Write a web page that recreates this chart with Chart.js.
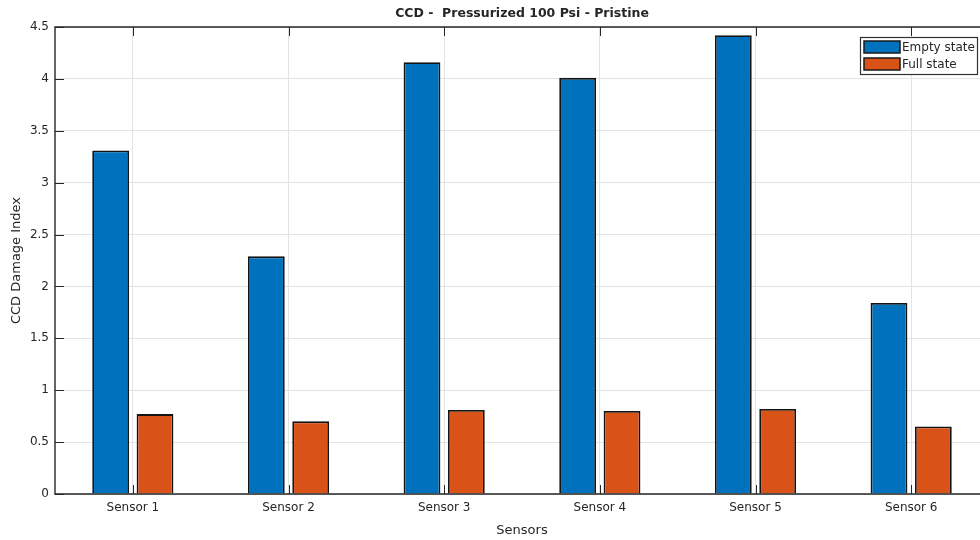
<!DOCTYPE html>
<html>
<head>
<meta charset="utf-8">
<script src="https://cdn.jsdelivr.net/npm/chart.js@4/dist/chart.umd.min.js"></script>
<style>
  html, body { margin: 0; padding: 0; overflow: hidden; background: #fff; width: 980px; height: 540px; }
  #wrap { position: relative; width: 1000px; height: 540px; }
</style>
</head>
<body>
<div id="wrap"><canvas id="c" width="1000" height="540"></canvas></div>
<script>
// Sensors along the x axis
const sensors = ['Sensor 1', 'Sensor 2', 'Sensor 3', 'Sensor 4', 'Sensor 5', 'Sensor 6'];
// CCD damage index per sensor
const emptyState = [3.31, 2.29, 4.16, 4.01, 4.42, 1.84];
const fullState  = [0.77, 0.70, 0.81, 0.80, 0.82, 0.65];
// y axis tick labels (0 .. 4.5 by 0.5)
const yTickLabels = ['0', '0.5', '1', '1.5', '2', '2.5', '3', '3.5', '4', '4.5'];

const FONT = '"DejaVu Sans", Arial, sans-serif';
const INK = '#262626';
const GRID = '#e3e3e3';

// Boxed axes with inward tick marks on all four sides
const framePlugin = {
  id: 'frame',
  afterDatasetsDraw(chart) {
    const { ctx, chartArea: { left, right, top, bottom }, scales: { x, y } } = chart;
    ctx.save();
    ctx.strokeStyle = INK;
    ctx.lineWidth = 1.4;
    ctx.beginPath();
    ctx.rect(left, top, right - left, bottom - top);
    ctx.stroke();
    ctx.lineWidth = 1;
    ctx.beginPath();
    const tl = 9;
    y.ticks.forEach((t, i) => {
      const py = Math.round(y.getPixelForTick(i)) + 0.5;
      ctx.moveTo(left, py); ctx.lineTo(left + tl, py);
      ctx.moveTo(right, py); ctx.lineTo(right - tl, py);
    });
    x.ticks.forEach((t, i) => {
      const px = Math.round(x.getPixelForTick(i)) + 0.5;
      ctx.moveTo(px, bottom); ctx.lineTo(px, bottom - tl);
      ctx.moveTo(px, top); ctx.lineTo(px, top + tl);
    });
    ctx.stroke();
    ctx.restore();
  }
};

// Boxed legend in the upper right corner of the plot
const boxLegendPlugin = {
  id: 'boxLegend',
  afterDraw(chart) {
    const { ctx, chartArea: { right, top } } = chart;
    const ds = chart.data.datasets;
    const w = 117, h = 37;
    const bx = right - 12 - w, by = top + 10;
    ctx.save();
    ctx.fillStyle = '#ffffff';
    ctx.fillRect(bx, by, w, h);
    ctx.strokeStyle = '#333333';
    ctx.lineWidth = 1.2;
    ctx.strokeRect(bx + 0.5, by + 0.5, w, h);
    ctx.font = '12px ' + FONT;
    ctx.textBaseline = 'middle';
    ds.forEach((d, i) => {
      const sy = by + 4 + i * 17;
      ctx.fillStyle = d.backgroundColor;
      ctx.fillRect(bx + 4, sy, 36, 12);
      ctx.strokeStyle = '#1a1a1a';
      ctx.lineWidth = 1.5;
      ctx.strokeRect(bx + 4, sy, 36, 12);
      ctx.fillStyle = INK;
      ctx.fillText(d.label, bx + 42, sy + 6.5);
    });
    ctx.restore();
  }
};

new Chart(document.getElementById('c'), {
  type: 'bar',
  data: {
    labels: sensors,
    datasets: [
      {
        label: 'Empty state',
        data: emptyState,
        backgroundColor: '#0072BD',
        borderColor: '#141414',
        borderWidth: 1.8,
        categoryPercentage: 0.57,
        barPercentage: 0.83
      },
      {
        label: 'Full state',
        data: fullState,
        backgroundColor: '#D95319',
        borderColor: '#141414',
        borderWidth: 1.8,
        categoryPercentage: 0.57,
        barPercentage: 0.83
      }
    ]
  },
  options: {
    responsive: false,
    animation: false,
    devicePixelRatio: 1,
    layout: { padding: { left: 0, right: 11, top: 0, bottom: 0 } },
    plugins: {
      legend: { display: false },
      tooltip: { enabled: false },
      title: {
        display: true,
        fullSize: false,
        text: 'CCD -  Pressurized 100 Psi - Pristine',
        color: INK,
        font: { family: FONT, size: 12.5, weight: 'bold', lineHeight: 1.2 },
        padding: { top: 6.5, bottom: 5.5 }
      }
    },
    scales: {
      x: {
        offset: true,
        grid: { offset: false, color: GRID, lineWidth: 1, drawTicks: false },
        border: { display: false },
        ticks: {
          color: INK,
          font: { family: FONT, size: 12 },
          padding: 7,
          maxRotation: 0,
          autoSkip: false
        },
        title: {
          display: true,
          text: 'Sensors',
          color: INK,
          font: { family: FONT, size: 13 },
          padding: { top: 0, bottom: 1.2 }
        },
        afterFit(scale) { scale.height = 46; }
      },
      y: {
        min: 0,
        max: 4.5,
        grid: { color: GRID, lineWidth: 1, drawTicks: false },
        border: { display: false },
        ticks: {
          stepSize: 0.5,
          color: INK,
          font: { family: FONT, size: 12 },
          padding: 6,
          callback: (v, i) => yTickLabels[i]
        },
        title: {
          display: true,
          text: 'CCD Damage Index',
          color: INK,
          font: { family: FONT, size: 13 },
          padding: { top: 8.5, bottom: 0 }
        },
        afterFit(scale) { scale.width = 55; }
      }
    }
  },
  plugins: [framePlugin, boxLegendPlugin]
});
</script>
</body>
</html>
